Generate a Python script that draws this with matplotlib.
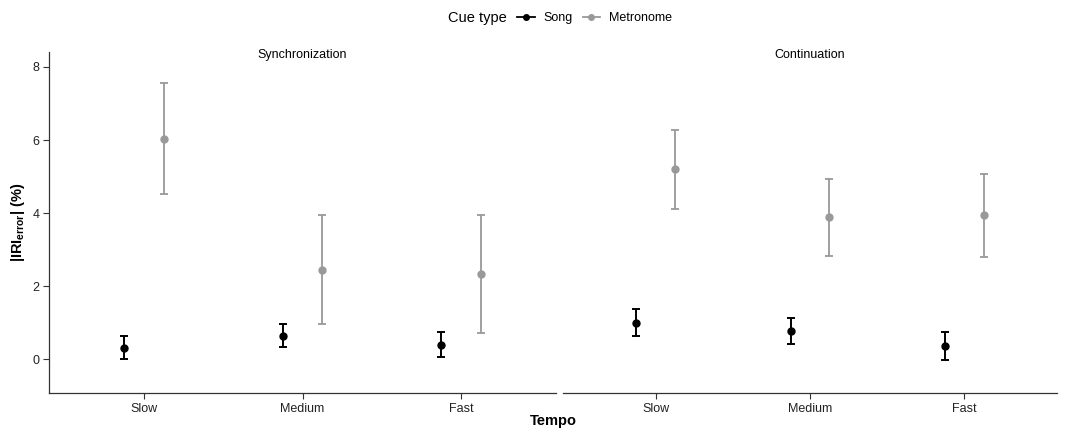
import matplotlib as mpl
mpl.use('Agg')
from matplotlib import pyplot as plt
from matplotlib.lines import Line2D
import numpy as np

plt.rcParams['font.family'] = ['Liberation Sans', 'DejaVu Sans']
plt.rcParams['mathtext.fontset'] = 'custom'
plt.rcParams['mathtext.rm'] = 'Liberation Sans'
plt.rcParams['mathtext.bf'] = 'Liberation Sans:bold'

tempos = ['Slow', 'Medium', 'Fast']
phases = ['Synchronization', 'Continuation']
cues = ['Song', 'Metronome']

# mean, lower, upper per phase
sync_song = [0.32, 0.65, 0.40]
sync_song_lo = [0.00, 0.34, 0.06]
sync_song_hi = [0.63, 0.96, 0.74]
sync_metro = [6.04, 2.45, 2.33]
sync_metro_lo = [4.52, 0.97, 0.71]
sync_metro_hi = [7.56, 3.95, 3.95]

cont_song = [0.99, 0.77, 0.37]
cont_song_lo = [0.64, 0.41, -0.03]
cont_song_hi = [1.37, 1.12, 0.75]
cont_metro = [5.21, 3.89, 3.94]
cont_metro_lo = [4.12, 2.83, 2.80]
cont_metro_hi = [6.27, 4.94, 5.08]

panels = [
    (sync_song, sync_song_lo, sync_song_hi, sync_metro, sync_metro_lo, sync_metro_hi),
    (cont_song, cont_song_lo, cont_song_hi, cont_metro, cont_metro_lo, cont_metro_hi),
]

W, H = 1077, 430
fig = plt.figure(figsize=(W/100, H/100), dpi=100)

# axes boxes in pixels: left, right
boxes = [(49, 556), (563, 1057)]
top, bottom = 52, 393
spine_col = '#333333'
cols = {'Song': 'black', 'Metronome': '#999999'}

x = np.arange(1, 4)
for i, (box, data) in enumerate(zip(boxes, panels)):
    l, r = box
    ax = fig.add_axes([l/W, 1-bottom/H, (r-l)/W, (bottom-top)/H])
    s, slo, shi, m, mlo, mhi = data
    s, slo, shi = np.array(s), np.array(slo), np.array(shi)
    m, mlo, mhi = np.array(m), np.array(mlo), np.array(mhi)
    ax.errorbar(x-0.125, s, yerr=[s-slo, shi-s], fmt='o', color=cols['Song'],
                ms=5, elinewidth=1.4, capsize=3, capthick=1.4)
    ax.errorbar(x+0.125, m, yerr=[m-mlo, mhi-m], fmt='o', color=cols['Metronome'],
                ms=5, elinewidth=1.3, capsize=2.8, capthick=1.3)
    ax.set_xlim(0.4, 3.6)
    ax.set_ylim(-0.92, 8.41)
    ax.set_xticks(x)
    ax.set_xticklabels(tempos, fontsize=9, color='#222222')
    for sp in ['top', 'right']:
        ax.spines[sp].set_visible(False)
    ax.spines['bottom'].set_color(spine_col)
    ax.spines['bottom'].set_linewidth(0.9)
    ax.tick_params(axis='x', length=4, color=spine_col, pad=3)
    if i == 0:
        ax.set_yticks([0, 2, 4, 6, 8])
        ax.tick_params(axis='y', length=4, color=spine_col, labelsize=9, labelcolor='#222222', pad=3)
        ax.spines['left'].set_color(spine_col)
        ax.spines['left'].set_linewidth(0.9)
        ax.set_ylabel(r'$\mathbf{|IRI_{error}|}$ $\mathbf{(\%)}$', fontsize=10.5, labelpad=4)
    else:
        ax.spines['left'].set_visible(False)
        ax.set_yticks([])
    fig.text((l+r)/2/W, 1-55/H, phases[i], ha='center', va='center', fontsize=9)

fig.text(553/W, 1-421/H, 'Tempo', ha='center', va='center', fontsize=10.5, fontweight='bold')

# legend
fig.text(507/W, 1-18/H, 'Cue type', ha='right', va='center', fontsize=10.5)
handles = [Line2D([], [], color=cols[c], marker='o', ms=4, lw=1.3) for c in cues]
fig.legend(handles, cues, loc='center left', bbox_to_anchor=(517/W, 1-18/H), ncol=2,
           frameon=False, fontsize=9, handlelength=1.4, handletextpad=0.75,
           columnspacing=0.75, borderpad=0, borderaxespad=0)

fig.savefig('out.png', dpi=100)
